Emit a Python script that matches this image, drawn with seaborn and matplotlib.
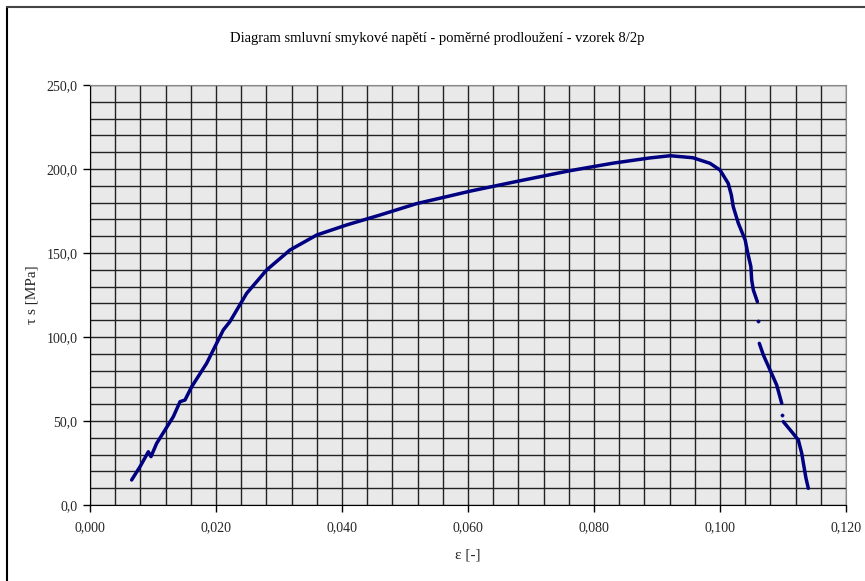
import numpy as np
import pandas as pd
import matplotlib
matplotlib.use('Agg')
import matplotlib.pyplot as plt
from matplotlib.ticker import MultipleLocator, FuncFormatter
import seaborn as sns

# Curve, split into segments where the dots have gaps
strain = [0.00661, 0.00794, 0.00926, 0.00968, 0.01058, 0.0119, 0.01323, 0.01429,
          0.01508, 0.01614, 0.01851, 0.02116, 0.0222, 0.02487, 0.02804, 0.03175,
          0.03598, 0.04074, 0.04603, 0.05185, 0.05714, 0.06032, 0.06825, 0.07619,
          0.08307, 0.08889, 0.0921, 0.0957, 0.0984, 0.1000, 0.1013, 0.1018,
          0.1021, 0.1029, 0.1040, 0.1044, 0.1049, 0.10503, 0.10529, 0.10593,
          0.10610,
          0.10624, 0.10688, 0.10794, 0.1090, 0.1098,
          0.10989,
          0.11005, 0.11138, 0.11243, 0.11297, 0.11333, 0.11365, 0.11402]
stress = [14.9, 22.8, 31.7, 28.8, 36.7, 44.6, 52.6, 61.5,
          62.5, 70.4, 84.3, 104.2, 109.1, 126.0, 139.9, 151.8,
          160.7, 166.7, 172.6, 179.4, 184.0, 186.8, 193.0, 199.0,
          203.5, 206.6, 207.9, 206.7, 203.4, 199.4, 191.5, 184.5,
          177.6, 167.8, 157.7, 150.0, 141.9, 133.9, 128.0, 121.0,
          109.7,
          96.2, 89.3, 80.4, 71.4, 60.5,
          53.6,
          49.6, 43.6, 38.7, 30.8, 22.8, 15.9, 9.9]
segment = [0] * 40 + [1] + [2] * 5 + [3] + [4] * 7

df = pd.DataFrame({'strain': strain, 'stress': stress, 'segment': segment})

sns.set_style('white')
plt.rcParams['font.family'] = ['Liberation Serif', 'DejaVu Serif']

fig = plt.figure(figsize=(8.65, 5.81), dpi=100)
ax = fig.add_axes([90 / 865, 76 / 581, 756 / 865, 420 / 581])
ax.set_facecolor('#e9e9e9')

navy = '#000080'
sns.lineplot(data=df, x='strain', y='stress', units='segment', estimator=None,
             sort=False, color=navy, linewidth=2.5, ax=ax, zorder=3)
# isolated dots in the falling part
single = df[df['segment'].isin([1, 3])]
sns.scatterplot(data=single, x='strain', y='stress', color=navy, s=6,
                edgecolor=navy, ax=ax, zorder=3)

ax.set_xlim(0, 0.12)
ax.set_ylim(0, 250)
ax.xaxis.set_major_locator(MultipleLocator(0.02))
ax.xaxis.set_minor_locator(MultipleLocator(0.004))
ax.yaxis.set_major_locator(MultipleLocator(50))
ax.yaxis.set_minor_locator(MultipleLocator(10))
ax.xaxis.set_major_formatter(FuncFormatter(lambda v, p: f'{v:.3f}'.replace('.', ',')))
ax.yaxis.set_major_formatter(FuncFormatter(lambda v, p: f'{v:.1f}'.replace('.', ',')))

ax.grid(which='both', color='#222222', linewidth=1.0)
ax.set_axisbelow(True)
ax.tick_params(which='major', direction='out', length=5, width=1, color='black',
               labelsize=10, bottom=True, left=True, pad=4)
ax.tick_params(axis='x', pad=7)
ax.tick_params(which='minor', length=0)
for s in ['top', 'right']:
    ax.spines[s].set_color('#888888')
for s in ['bottom', 'left']:
    ax.spines[s].set_color('black')

ax.set_xlabel('ε [-]', fontsize=11, labelpad=10)
ax.set_ylabel('τ s [MPa]', fontsize=11, labelpad=6)

fig.text(0.505, 0.934, 'Diagram smluvní smykové napětí - poměrné prodloužení - vzorek 8/2p',
         ha='center', va='center', fontsize=10.5, color='black')

# outer chart frame (top and left edges visible in the reference)
fig.add_artist(plt.Line2D([7 / 865, 7 / 865], [0, 1 - 7 / 581], color='black', linewidth=1.5))
fig.add_artist(plt.Line2D([7 / 865, 1], [1 - 7 / 581, 1 - 7 / 581], color='#444444', linewidth=1.5))

fig.savefig('out.png', dpi=100)
